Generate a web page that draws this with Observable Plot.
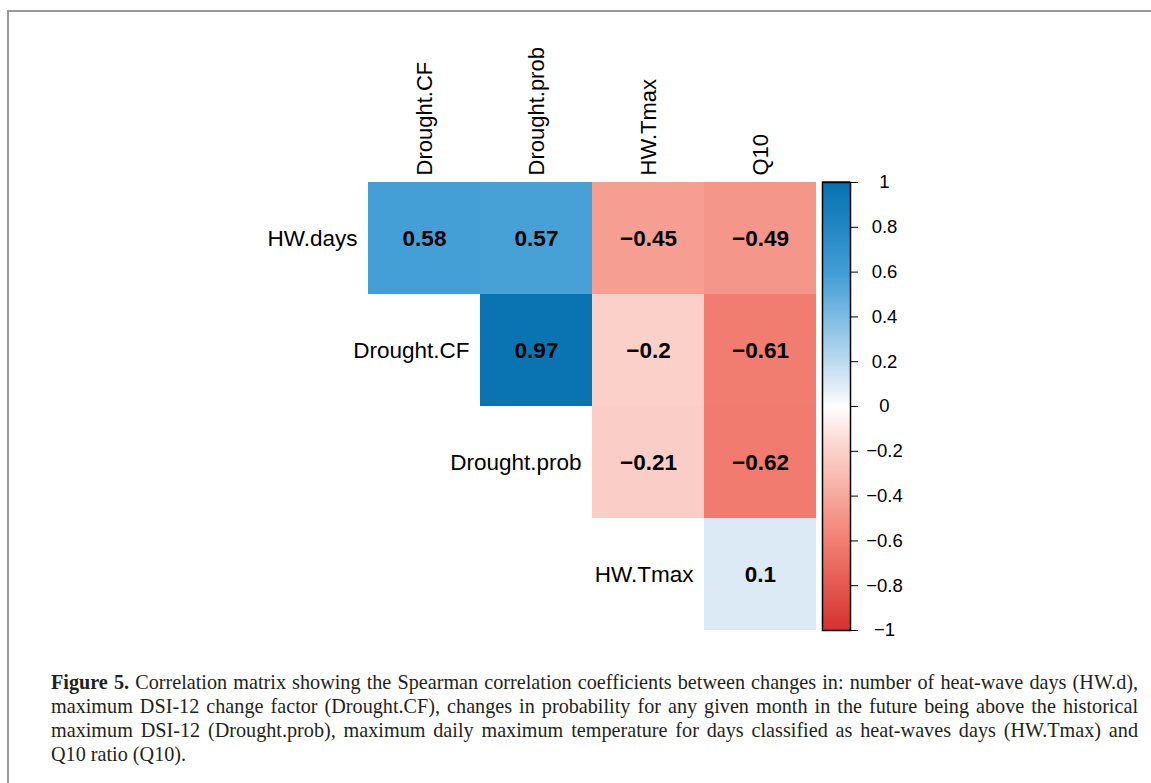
<!DOCTYPE html>
<html>
<head>
<meta charset="utf-8">
<script src="https://cdn.jsdelivr.net/npm/d3@7"></script>
<script src="https://cdn.jsdelivr.net/npm/@observablehq/plot@0.6"></script>
<style>
  html, body { margin: 0; padding: 0; background: #fff; }
  body { width: 1151px; height: 783px; position: relative; overflow: hidden; }
  #frame { position: absolute; left: 7px; top: 10px; right: -10px; bottom: -10px;
           border-top: 2px solid #999; border-left: 2px solid #999; }
  #main { position: absolute; left: 0; top: 0; }
  #bar { position: absolute; left: 800px; top: 0; }
  #caption { position: absolute; left: 51px; top: 670px; width: 1087px;
             font-family: "Liberation Serif", "DejaVu Serif", serif; font-size: 20.2px;
             line-height: 24px; color: #231f20; }
  #caption .l { text-align: justify; text-align-last: justify; white-space: nowrap; }
  #caption .last { text-align: left; }
</style>
</head>
<body>
<div id="frame"></div>
<div id="main"></div>
<div id="bar"></div>
<div id="caption">
  <div class="l"><b>Figure 5.</b> Correlation matrix showing the Spearman correlation coefficients between changes in: number of heat-wave days (HW.d),</div>
  <div class="l">maximum DSI-12 change factor (Drought.CF), changes in probability for any given month in the future being above the historical</div>
  <div class="l">maximum DSI-12 (Drought.prob), maximum daily maximum temperature for days classified as heat-waves days (HW.Tmax) and</div>
  <div class="last">Q10 ratio (Q10).</div>
</div>
<script>
// ---- data ----
const rowNames = ["HW.days", "Drought.CF", "Drought.prob", "HW.Tmax"];
const colNames = ["Drought.CF", "Drought.prob", "HW.Tmax", "Q10"];
const rowValues = [
  [0.58, 0.57, -0.45, -0.49],
  [0.97, -0.2, -0.61],
  [-0.21, -0.62],
  [0.1]
];
const barTicks = [1, 0.8, 0.6, 0.4, 0.2, 0, -0.2, -0.4, -0.6, -0.8, -1];

// table for upper triangle
const cells = [];
rowValues.forEach((vals, i) => {
  vals.forEach((v, k) => {
    cells.push({row: rowNames[i], col: colNames[i + k], value: v});
  });
});

const fmt = v => String(v).replace("-", "\u2212");

const colorScale = {
  type: "linear",
  domain: [-1, -0.6, -0.45, -0.2, 0, 0.1, 0.58, 1],
  range: ["#D6312F", "#F27F72", "#F59E91", "#FAD0C9", "#FFFFFF", "#DBEAF5", "#449FD6", "#0571B0"],
  interpolate: "rgb",
  clamp: true
};

const font = "'Liberation Sans', Arial, Helvetica, sans-serif";

const main = Plot.plot({
  width: 820,
  height: 640,
  marginLeft: 368,
  marginRight: 4,
  marginTop: 182,
  marginBottom: 10,
  style: {fontFamily: font, fontSize: "22px", color: "#000", background: "transparent"},
  x: {domain: colNames, padding: 0, axis: "top", tickRotate: -90, tickSize: 0, tickPadding: 7, label: null},
  y: {domain: rowNames, padding: 0, axis: null},
  color: colorScale,
  marks: [
    Plot.cell(cells, {x: "col", y: "row", fill: "value", inset: 0}),
    Plot.text(cells, {x: "col", y: "row", text: d => fmt(d.value), fontWeight: "bold", fontSize: 22.5, fill: "#000"}),
    Plot.text(rowNames, {x: (d, i) => colNames[i], y: d => d, text: d => d, textAnchor: "end", dx: -67, fontSize: 22.5, fill: "#000"})
  ]
});
document.getElementById("main").appendChild(main);

// colour bar
const step = 0.005;
const ramp = d3.range(-1, 1, step);
const bar = Plot.plot({
  width: 120,
  height: 640,
  marginLeft: 22,
  marginRight: 70,
  marginTop: 182,
  marginBottom: 10,
  style: {fontFamily: font, fontSize: "18.5px", color: "#000", background: "transparent"},
  x: {domain: [0, 1], axis: null},
  y: {domain: [-1, 1], axis: "right", ticks: barTicks, tickFormat: fmt, tickSize: 7, tickPadding: 27, label: null},
  color: colorScale,
  marks: [
    Plot.rect(ramp, {x1: 0, x2: 1, y1: d => d, y2: d => d + step * 1.5, fill: d => d + step / 2, shapeRendering: "crispEdges"}),
    Plot.frame({stroke: "#000", strokeWidth: 1.5})
  ]
});
document.getElementById("bar").appendChild(bar);
// center the colour bar tick labels
bar.querySelectorAll("g[aria-label='y-axis tick label'] text, g[aria-label='y-axis'] text").forEach(t => t.setAttribute("text-anchor", "middle"));
</script>
</body>
</html>
